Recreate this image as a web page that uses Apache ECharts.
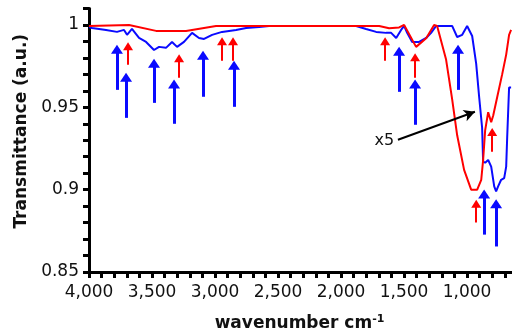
<!DOCTYPE html>
<html>
<head>
<meta charset="utf-8">
<script src="https://cdn.jsdelivr.net/npm/echarts@6/dist/echarts.min.js"></script>
<style>
  html, body { margin: 0; padding: 0; background: #fff; }
  #chart { width: 512px; height: 336px; }
</style>
</head>
<body>
<div id="chart"></div>
<script>
// spectra (wavenumber cm-1 / transmittance)
const blueWavenumber = [4000, 3976, 3865, 3778, 3722, 3698, 3659, 3603, 3547, 3484, 3444, 3389, 3341, 3301, 3246, 3182, 3127, 3087, 3023, 2944, 2833, 2753, 2650, 2571, 1880, 1801, 1721, 1642, 1602, 1562, 1523, 1499, 1475, 1435, 1380, 1324, 1285, 1245, 1118, 1078, 1038, 999, 959, 927, 903, 880, 872, 856, 832, 808, 784, 769, 753, 729, 705, 689, 681, 666, 650];
const blueTransmittance = [0.9988, 0.9982, 0.997, 0.9958, 0.997, 0.994, 0.9976, 0.9921, 0.9897, 0.9848, 0.9867, 0.9861, 0.9897, 0.9867, 0.9897, 0.9952, 0.9921, 0.9915, 0.994, 0.9958, 0.997, 0.9982, 0.9988, 0.9994, 0.9994, 0.9976, 0.9958, 0.9952, 0.9952, 0.9921, 0.997, 0.9994, 0.9952, 0.9897, 0.9897, 0.9921, 0.9952, 0.9994, 0.9994, 0.9927, 0.994, 0.9994, 0.9933, 0.9764, 0.9558, 0.9376, 0.917, 0.9164, 0.918, 0.914, 0.902, 0.899, 0.902, 0.906, 0.907, 0.914, 0.932, 0.962, 0.962];

const redWavenumber = [4000, 3682, 3468, 3230, 2992, 1697, 1618, 1539, 1499, 1404, 1324, 1261, 1237, 1166, 1118, 1078, 1023, 967, 919, 887, 872, 856, 832, 808, 792, 761, 721, 689, 666, 650];
const redTransmittance = [0.9994, 1.0, 0.9964, 0.9964, 0.9994, 0.9994, 0.998, 0.9985, 1.0, 0.9867, 0.992, 1.0, 0.9994, 0.979, 0.955, 0.933, 0.912, 0.9, 0.9, 0.906, 0.918, 0.936, 0.947, 0.941, 0.945, 0.956, 0.97, 0.982, 0.994, 0.997];

// band arrows: [wavenumber, tip, tail]
const blueArrows = [
  [3778, 0.9879, 0.9606], [3706, 0.9709, 0.9436], [3484, 0.9794, 0.9527],
  [3325, 0.9667, 0.940], [3095, 0.9842, 0.9564], [2849, 0.9782, 0.9503],
  [1539, 0.9867, 0.9594], [1412, 0.9667, 0.9394], [1071, 0.9879, 0.9606],
  [864, 0.90, 0.8727], [769, 0.894, 0.8655]
];
const redArrows = [
  [3690, 0.9897, 0.9758], [3285, 0.9824, 0.9679], [2944, 0.9927, 0.9782],
  [2857, 0.9927, 0.9782], [1650, 0.9927, 0.9782], [1412, 0.983, 0.9679],
  [927, 0.894, 0.880], [800, 0.9376, 0.923]
];
// "x5" callout: from -> to
const calloutFrom = [1548, 0.9303];
const calloutTo = [937, 0.9473];
const calloutText = 'x5';

const xTicks = [4000, 3500, 3000, 2500, 2000, 1500, 1000, 500];
const yTicks = [0.85, 0.9, 0.95, 1];

const zip = (xs, ys) => xs.map((x, i) => [x, ys[i]]);
const headShift = 0.0026; // triangle is centred on the end point

const arrowLines = (list) => list.map(a => [
  { coord: [a[0], a[2]] },
  { coord: [a[0], a[1] - headShift] }
]);

const chart = echarts.init(document.getElementById('chart'));
const font = 'DejaVu Sans';
const tickStyle = { color: '#000', width: 3 };

chart.setOption({
  animation: false,
  // plot runs past the right edge (the 500 end is cut off)
  grid: { left: 89, width: 441, top: 8.5, bottom: 64, outerBoundsMode: 'none', containLabel: false },
  xAxis: {
    type: 'value',
    inverse: true,
    min: 500,
    max: 4000,
    interval: 500,
    name: 'wavenumber cm{sup|-1}',
    nameLocation: 'middle',
    nameGap: 42,
    nameTextStyle: {
      fontFamily: font, fontSize: 17, fontWeight: 'bold', color: '#111',
      padding: [0, 20, 0, 0],
      rich: { sup: { fontFamily: font, fontSize: 11, fontWeight: 'bold', verticalAlign: 'top', padding: [0, 0, 8, 0] } }
    },
    axisLine: { lineStyle: { color: '#000', width: 3 } },
    axisTick: { show: true, inside: false, length: 6, lineStyle: tickStyle },
    minorTick: { show: true, splitNumber: 5, length: 6, lineStyle: tickStyle },
    splitLine: { show: false },
    axisLabel: {
      fontFamily: font, fontSize: 17, color: '#111', margin: 12,
      formatter: v => xTicks.includes(v) ? v.toLocaleString('en-US') : ''
    }
  },
  yAxis: {
    type: 'value',
    min: 0.85,
    max: 1.01,
    interval: 0.05,
    name: 'Transmittance (a.u.)',
    nameLocation: 'middle',
    nameGap: 52,
    nameTextStyle: {
      fontFamily: font, fontSize: 17, fontWeight: 'bold', color: '#111',
      padding: [0, 0, 0, 18]
    },
    axisLine: { show: true, lineStyle: { color: '#000', width: 3 } },
    axisTick: { show: true, inside: false, length: 6, lineStyle: tickStyle },
    minorTick: { show: true, splitNumber: 5, length: 6, lineStyle: tickStyle },
    splitLine: { show: false },
    axisLabel: {
      fontFamily: font, fontSize: 17, color: '#111', margin: 10,
      formatter: v => {
        const r = Math.round(v * 100) / 100;
        return yTicks.some(t => Math.abs(t - r) < 1e-6) ? String(r) : '';
      }
    }
  },
  series: [
    {
      name: 'blue',
      type: 'line',
      data: zip(blueWavenumber, blueTransmittance),
      showSymbol: false,
      lineStyle: { color: '#0a0aff', width: 2 },
      markLine: {
        silent: true,
        symbol: ['none', 'triangle'],
        symbolSize: [12, 9],
        label: { show: false },
        lineStyle: { color: '#0a0aff', width: 3, type: 'solid' },
        data: arrowLines(blueArrows)
      }
    },
    {
      name: 'red',
      type: 'line',
      data: zip(redWavenumber, redTransmittance),
      showSymbol: false,
      lineStyle: { color: '#ff0000', width: 2 },
      markLine: {
        silent: true,
        symbol: ['none', 'triangle'],
        symbolSize: [10, 8],
        label: { show: false },
        lineStyle: { color: '#ff0000', width: 2, type: 'solid' },
        data: arrowLines(redArrows)
      }
    },
    {
      name: 'callout',
      type: 'line',
      data: [],
      markLine: {
        silent: true,
        symbol: ['none', 'arrow'],
        symbolSize: [9, 11],
        lineStyle: { color: '#000', width: 2, type: 'solid' },
        label: {
          show: true, position: 'start', formatter: calloutText,
          fontFamily: font, fontSize: 16, color: '#111', distance: 4
        },
        data: [[{ coord: calloutFrom }, { coord: calloutTo }]]
      }
    }
  ]
});
</script>
</body>
</html>
